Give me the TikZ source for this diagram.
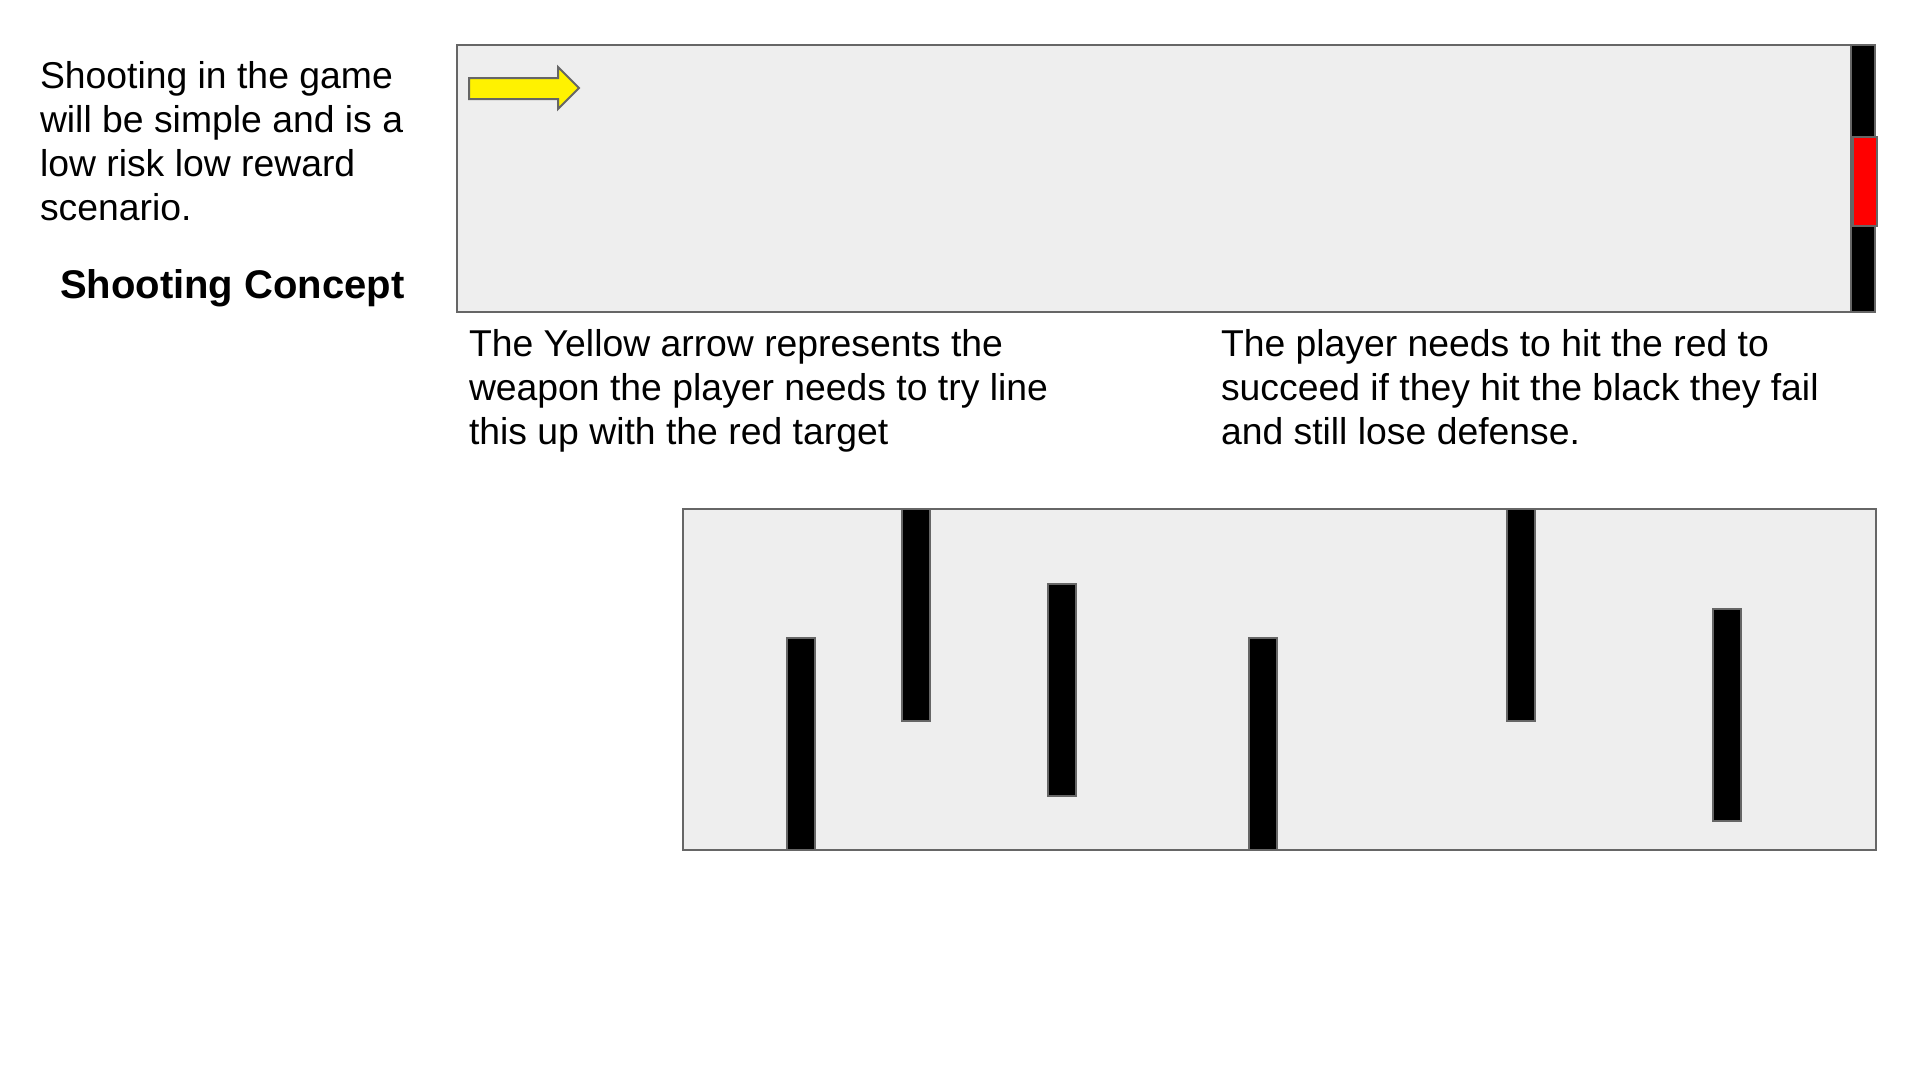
\documentclass[tikz,border=0pt]{standalone}
\usepackage{fontspec}
\setmainfont{Liberation Sans}
\usepackage{tikz}

\definecolor{PanelGray}{HTML}{EEEEEE}
\definecolor{EdgeGray}{HTML}{666666}

\begin{document}
\begin{tikzpicture}[x=0.375pt,y=-0.375pt]
  \tikzset{PanelStyle/.style = {
    draw          = EdgeGray,
    fill          = PanelGray,
    line width    = 0.75pt
    }
  }
  \tikzset{BarStyle/.style = {
    draw          = EdgeGray,
    fill          = black,
    line width    = 0.75pt
    }
  }
  \tikzset{TargetStyle/.style = {
    draw          = EdgeGray,
    fill          = red,
    line width    = 0.75pt
    }
  }
  \tikzset{ArrowStyle/.style = {
    draw          = EdgeGray,
    fill          = yellow,
    line width    = 0.75pt,
    line join     = miter
    }
  }
  \tikzset{TextStyle/.style = {
    anchor        = base west,
    align         = left,
    inner sep     = 0pt,
    outer sep     = 0pt,
    text          = black,
    font          = \fontsize{14}{16.5}\selectfont
    }
  }
  \tikzset{TitleStyle/.style = {
    TextStyle,
    font          = \fontsize{15}{18}\selectfont\bfseries
    }
  }

  \useasboundingbox (0,0) rectangle (1920,1080);

  % top panel with the weapon and the target
  \draw[PanelStyle] (457,45) rectangle (1863,312);
  \draw[BarStyle] (1851,45) rectangle (1875,312);
  \draw[TargetStyle] (1853,137) rectangle (1877,226);
  \draw[ArrowStyle] (469,78) -- (558,78) -- (558,67) -- (579,88)
    -- (558,109) -- (558,99) -- (469,99) -- cycle;

  % bottom panel with the walls
  \draw[PanelStyle] (683,509) rectangle (1876,850);
  \foreach \x/\y in {787/638, 902/509, 1048/584, 1249/638, 1507/509, 1713/609}
    \draw[BarStyle] (\x,\y) rectangle ++(28,212);

  % texts, placed at the baseline of their last line
  \node[TextStyle](intro) at (40,220) {Shooting in the game\\will be simple and is a\\low risk low reward\\scenario.};
  \node[TitleStyle](title) at (60,298) {Shooting Concept};
  \node[TextStyle](weapon) at (469,444) {The Yellow arrow represents the\\weapon the player needs to try line\\this up with the red target};
  \node[TextStyle](target) at (1221,444) {The player needs to hit the red to\\succeed if they hit the black they fail\\and still lose defense.};

\end{tikzpicture}
\end{document}
